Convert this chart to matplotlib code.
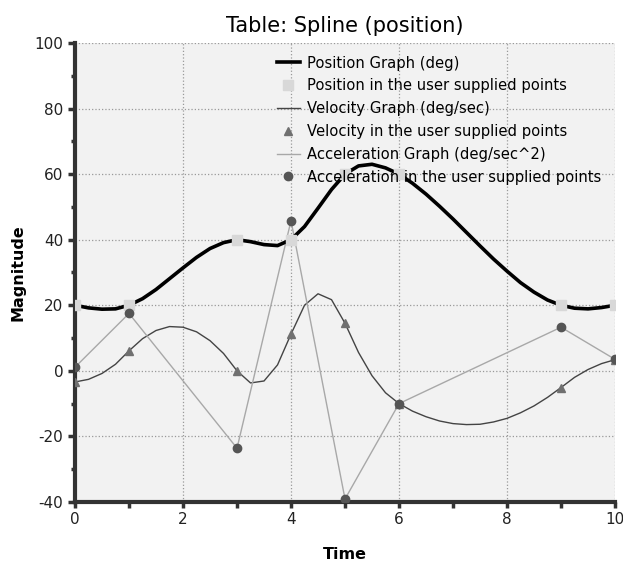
import numpy as np
import matplotlib
matplotlib.use("Agg")
import matplotlib.pyplot as plt
from matplotlib.ticker import MultipleLocator

plt.rcParams['axes.unicode_minus'] = False

# user supplied points
knot_time = [0, 1, 3, 4, 5, 6, 9, 10]
knot_position = [20, 20, 40, 40, 60, 60, 20, 20]
knot_velocity = [-3.4, 6.1, 0.0, 11.2, 14.5, -10.0, -5.1, 3.4]
knot_acceleration = [1.1, 17.5, -23.6, 45.8, -39.1, -10.0, 13.3, 3.5]

# curves every 0.25 s
curve_time = np.linspace(0, 10, 41)
curve_position = [20.0, 19.2, 18.8, 18.9, 20.0, 22.0, 24.8, 28.1, 31.4, 34.6,
                  37.3, 39.1, 40.0, 39.4, 38.5, 38.2, 40.0, 44.0, 49.6, 55.3,
                  60.0, 62.5, 63.0, 61.9, 60.0, 57.2, 53.9, 50.2, 46.3, 42.2,
                  38.1, 34.1, 30.4, 26.9, 24.0, 21.6, 20.0, 19.1, 18.9, 19.3,
                  20.0]
curve_velocity = [-3.4, -2.6, -0.8, 2.0, 6.1, 9.8, 12.3, 13.5, 13.3, 11.9,
                  9.2, 5.3, 0.0, -3.7, -3.1, 1.8, 11.2, 20.0, 23.5, 21.7,
                  14.5, 5.6, -1.5, -6.7, -10.0, -12.3, -14.0, -15.3, -16.1, -16.4,
                  -16.3, -15.6, -14.5, -12.8, -10.7, -8.1, -5.1, -2.0, 0.4, 2.2,
                  3.4]

fig = plt.figure(figsize=(6.23, 5.64), dpi=100)
ax = fig.add_axes([0.1204, 0.110, 0.8668, 0.8138])
ax.set_facecolor('#f2f2f2')

ax.plot(curve_time, curve_position, color='black', lw=2.6,
        label='Position Graph (deg)', zorder=4)
ax.plot(knot_time, knot_position, ls='none', marker='s', ms=6.5,
        color='#d8d8d8', label='Position in the user supplied points', zorder=5)
ax.plot(curve_time, curve_velocity, color='#444444', lw=1.0,
        label='Velocity Graph (deg/sec)', zorder=3)
ax.plot(knot_time, knot_velocity, ls='none', marker='^', ms=5.5,
        color='#707070', label='Velocity in the user supplied points', zorder=5)
ax.plot(knot_time, knot_acceleration, color='#a8a8a8', lw=1.0,
        label='Acceleration Graph (deg/sec^2)', zorder=3)
ax.plot(knot_time, knot_acceleration, ls='none', marker='o', ms=6,
        color='#555555', label='Acceleration in the user supplied points', zorder=6)

ax.set_xlim(0, 10)
ax.set_ylim(-40, 100)
ax.xaxis.set_major_locator(MultipleLocator(2))
ax.xaxis.set_minor_locator(MultipleLocator(1))
ax.yaxis.set_major_locator(MultipleLocator(20))
ax.yaxis.set_minor_locator(MultipleLocator(10))
ax.grid(True, which='major', ls=':', color='#999999', lw=0.9)

for s in ['top', 'right']:
    ax.spines[s].set_visible(False)
for s in ['left', 'bottom']:
    ax.spines[s].set_linewidth(3)
    ax.spines[s].set_color('#333333')
ax.tick_params(which='major', length=5, width=2.5, color='#333333',
               labelsize=11, labelcolor='#222222')
ax.tick_params(which='minor', length=3, width=2.5, color='#333333')
ax.tick_params(axis='x', which='both', length=4)

ax.set_title('Table: Spline (position)', fontsize=15, pad=8)
ax.set_xlabel('Time', fontsize=11.5, fontweight='bold', labelpad=14)
ax.set_ylabel('Magnitude', fontsize=11.5, fontweight='bold', labelpad=6)

leg = ax.legend(loc='upper left', bbox_to_anchor=(0.355, 0.995), frameon=False,
                fontsize=10.6, handlelength=1.55, handletextpad=0.5,
                labelspacing=0.53, borderaxespad=0.3)

fig.savefig('out.png', dpi=100)
